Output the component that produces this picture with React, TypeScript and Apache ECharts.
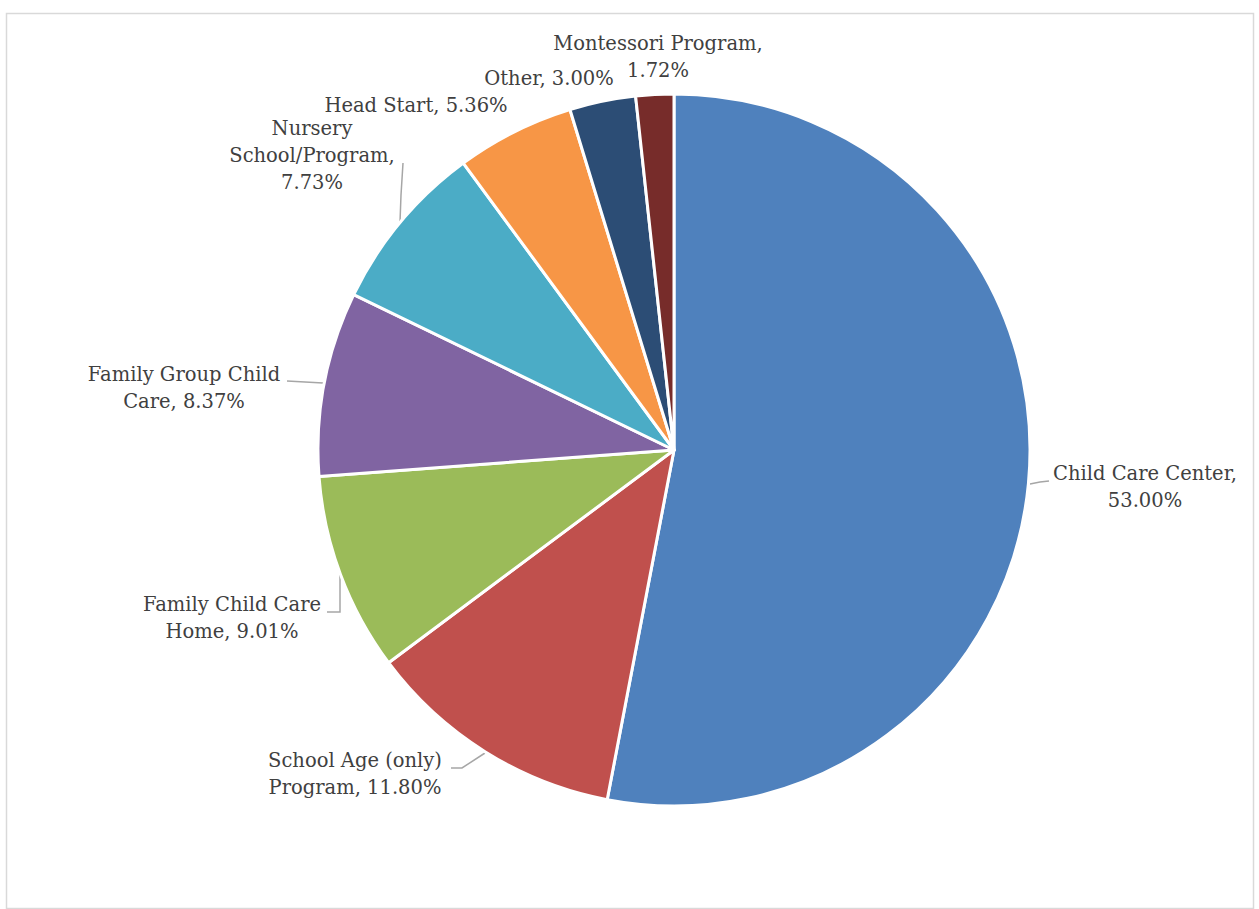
import React, { useEffect, useRef } from "react";
import * as echarts from "echarts";

const CATEGORIES = [
  "Child Care Center",
  "School Age (only) Program",
  "Family Child Care Home",
  "Family Group Child Care",
  "Nursery School/Program",
  "Head Start",
  "Other",
  "Montessori Program",
];
const VALUES = [53.0, 11.8, 9.01, 8.37, 7.73, 5.36, 3.0, 1.72];
const COLORS = ["#4F81BD", "#C0504D", "#9BBB59", "#8064A2", "#4BACC6", "#F79646", "#2C4D75", "#772C2A"];

// label layout (word index after which to break lines), centre of label block, leader lines
const LABEL_BREAKS: number[][] = [[3], [3], [3], [3], [1, 2], [], [], [2]];
const LABEL_POS: number[][] = [
  [1145, 487],
  [355, 774],
  [232, 618],
  [184, 388],
  [312, 155],
  [416, 105],
  [549, 78],
  [658, 57],
];
const LABEL_LINES: (number[][] | null)[] = [
  [[1030, 484], [1040, 482], [1049, 481]],
  [[485, 753], [462, 768], [451, 768]],
  [[340, 575], [340, 612], [327, 612]],
  [[323, 383], [305, 382], [287, 381]],
  [[400, 222], [401, 195], [403, 163]],
  null,
  null,
  null,
];

function labelText(i: number): string {
  const words = `${CATEGORIES[i]}, ${VALUES[i].toFixed(2)}%`.split(" ");
  const breaks = LABEL_BREAKS[i];
  let out = "";
  words.forEach((w, k) => {
    if (k > 0) out += breaks.includes(k) ? "\n" : " ";
    out += w;
  });
  return out;
}

export default function App() {
  const ref = useRef<HTMLDivElement>(null);
  useEffect(() => {
    document.body.style.margin = "0";
    const chart = echarts.init(ref.current!, null, { renderer: "svg" });
    chart.setOption({
      animation: false,
      backgroundColor: "#ffffff",
      graphic: [
        {
          type: "rect",
          shape: { x: 6.5, y: 13.5, width: 1247, height: 895 },
          style: { fill: "none", stroke: "#d9d9d9", lineWidth: 1.5 },
          silent: true,
        },
      ],
      series: [
        {
          type: "pie",
          center: [674, 450],
          radius: 356,
          startAngle: 90,
          clockwise: true,
          avoidLabelOverlap: false,
          itemStyle: { borderColor: "#ffffff", borderWidth: 3 },
          label: {
            show: true,
            position: "outside",
            formatter: (p: any) => labelText(p.dataIndex),
            fontFamily: "DejaVu Serif",
            fontSize: 19.5,
            lineHeight: 27,
            color: "#404040",
            align: "center",
          },
          labelLine: {
            show: true,
            lineStyle: { color: "#a6a6a6", width: 1.5 },
          },
          labelLayout: (params: any) => {
            const i = params.dataIndex;
            const res: any = {
              x: LABEL_POS[i][0],
              y: LABEL_POS[i][1],
              align: "center",
              verticalAlign: "middle",
            };
            if (LABEL_LINES[i]) res.labelLinePoints = LABEL_LINES[i];
            return res;
          },
          data: CATEGORIES.map((name, i) => ({
            name,
            value: VALUES[i],
            itemStyle: { color: COLORS[i] },
            labelLine: { show: LABEL_LINES[i] !== null },
          })),
        },
      ],
    });
    return () => chart.dispose();
  }, []);
  return <div ref={ref} style={{ width: 1259, height: 909 }} />;
}
